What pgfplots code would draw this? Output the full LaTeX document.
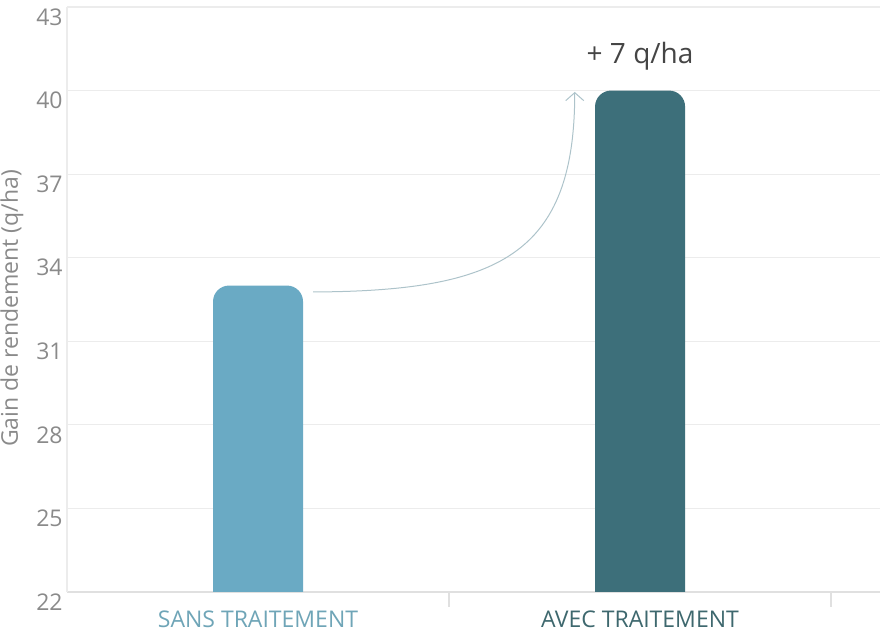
\documentclass[border=0pt]{standalone}
\usepackage{fontspec}
\setmainfont{Open Sans}
\usepackage{pgfplots}
\pgfplotsset{compat=1.18}
\usetikzlibrary{arrows.meta}

\definecolor{barA}{HTML}{6AAAC4}
\definecolor{barB}{HTML}{3D6F7A}
\definecolor{labA}{HTML}{6FA5B7}
\definecolor{labB}{HTML}{3E686E}
\definecolor{gridgray}{HTML}{ECECEC}
\definecolor{axisgray}{HTML}{E0E0E0}
\definecolor{tickgray}{HTML}{8A8A8A}
\definecolor{annot}{HTML}{454545}
\definecolor{arrowc}{HTML}{ADC3CA}

\begin{document}
\begin{tikzpicture}
\begin{axis}[
  at={(0,0)}, anchor=south west,
  scale only axis, width=406.5pt, height=292.5pt,
  xmin=-0.5, xmax=1.628, ymin=22, ymax=43,
  axis x line=bottom, axis y line=left,
  x axis line style={draw=axisgray, line width=0.6pt, -},
  y axis line style={draw=gridgray, line width=0.6pt, -},
  ytick={22,25,...,43},
  xtick={0,1},
  xticklabels={\textcolor{labA}{SANS TRAITEMENT}, \textcolor{labB}{AVEC TRAITEMENT}},
  major tick length=0pt,
  ymajorgrids, grid style={draw=gridgray, line width=0.6pt},
  x tick label style={font=\fontsize{11.5}{12}\selectfont, anchor=center, inner sep=0pt, yshift=-13.5pt},
  y tick label style={font=\fontsize{11.5}{12}\selectfont, color=tickgray, anchor=east, inner sep=0pt, xshift=-2pt, yshift=-5pt},
  /pgf/number format/assume math mode=true,
]
% bars: SANS TRAITEMENT = 33, AVEC TRAITEMENT = 40 (base below ymin so only the top corners stay rounded)
\addplot[draw=none, fill=barA, rounded corners=8pt, sharp plot]
  coordinates {(-0.1178,20) (-0.1178,33) (0.1178,33) (0.1178,20)} -- cycle;
\addplot[draw=none, fill=barB, rounded corners=8pt, sharp plot]
  coordinates {(0.8822,20) (0.8822,40) (1.1178,40) (1.1178,20)} -- cycle;

\draw[arrowc, line width=0.5pt, -{Straight Barb[length=4pt,width=9pt]}]
  (axis cs:0.144,32.77) .. controls (axis cs:0.63,32.8) and (axis cs:0.829,34.1) .. (axis cs:0.829,39.95);
\node[font=\fontsize{14}{14}\selectfont, color=annot] at (axis cs:1,41.25) {+ 7 q/ha};

\coordinate (s1) at (axis cs:0.5,22);
\coordinate (s2) at (axis cs:1.5,22);
\end{axis}
\draw[axisgray, line width=0.6pt] (s1) -- ++(0,-7.5pt);
\draw[axisgray, line width=0.6pt] (s2) -- ++(0,-7.5pt);
\node[rotate=90, font=\fontsize{11.5}{12}\selectfont, color=tickgray] at (-27.5pt,141.75pt) {Gain de rendement (q/ha)};
\pgfresetboundingbox
\useasboundingbox (-33.5pt,-25.5pt) rectangle (406.5pt,296pt);
\end{tikzpicture}
\end{document}
